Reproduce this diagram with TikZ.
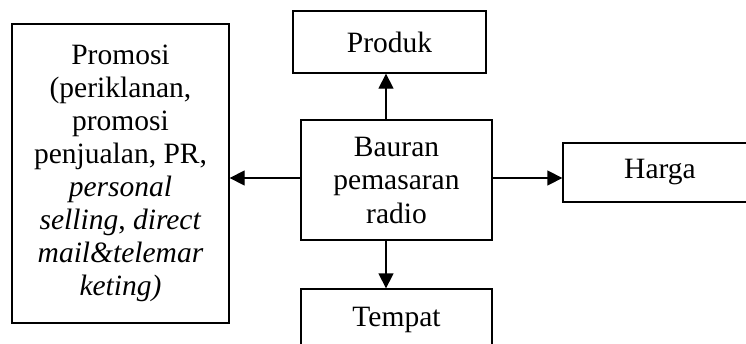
\documentclass[tikz,border=0pt]{standalone}
\usepackage{fontspec}
\setmainfont{Liberation Serif}
\usetikzlibrary{arrows.meta}
\begin{document}
\begin{tikzpicture}[x=1pt,y=-1pt,
  box/.style={draw,line width=1.3pt,inner sep=0pt,align=center,
    font=\fontsize{29.5}{33}\selectfont},
  arr/.style={line width=1.3pt,-{Triangle[length=15pt,width=15pt]}}]
\useasboundingbox (0,0) rectangle (746,343);
\begin{scope}
\clip (0,0) rectangle (746,343);
\node[box,minimum width=217pt,minimum height=299pt] (promosi) at (120.5,173.5)
  {Promosi\\(periklanan,\\promosi\\penjualan, PR,\\\textit{personal}\\\textit{selling}, \textit{direct}\\\textit{mail\&telemar}\\\textit{keting)}};
\node[box,minimum width=193pt,minimum height=62pt] (produk) at (389.5,42) {Produk};
\node[box,minimum width=191pt,minimum height=120pt,font=\fontsize{29.5}{33.5}\selectfont] (bauran) at (396.5,180) {Bauran\\pemasaran\\radio};
\node[box,minimum width=191pt,minimum height=62pt] (tempat) at (396.5,320) {Tempat};
\node[box,minimum width=194pt,minimum height=59pt] (harga) at (660,172.5) {Harga};
\end{scope}
\coordinate (ax) at (386,178);
\draw[arr] (bauran.north -| ax) -- (produk.south -| ax);
\draw[arr] (bauran.south -| ax) -- (tempat.north -| ax);
\draw[arr] (bauran.west |- ax) -- (promosi.east |- ax);
\draw[arr] (bauran.east |- ax) -- (harga.west |- ax);
\end{tikzpicture}
\end{document}
